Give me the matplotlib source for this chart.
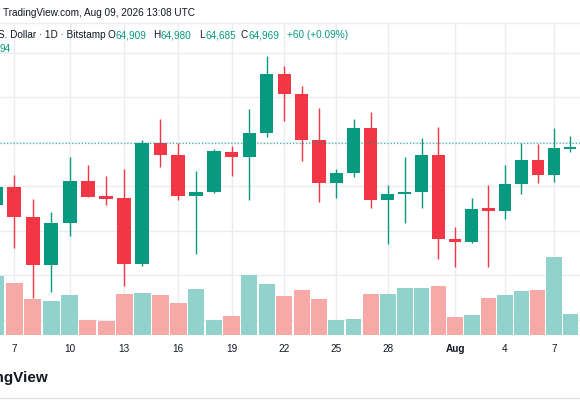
import numpy as np
import matplotlib
matplotlib.use("Agg")
import matplotlib.pyplot as plt
from matplotlib.transforms import blended_transform_factory

# ---------------- data ----------------
dates = ["Jul 6", "Jul 7", "Jul 8", "Jul 9", "Jul 10", "Jul 11", "Jul 12", "Jul 13",
         "Jul 14", "Jul 15", "Jul 16", "Jul 17", "Jul 18", "Jul 19", "Jul 20", "Jul 21",
         "Jul 22", "Jul 23", "Jul 24", "Jul 25", "Jul 26", "Jul 27", "Jul 28", "Jul 29",
         "Jul 30", "Jul 31", "Aug 1", "Aug 2", "Aug 3", "Aug 4", "Aug 5", "Aug 6",
         "Aug 7", "Aug 8"]
opens = [63582, 63994, 63320, 62234, 63171, 64128, 63785, 63747, 62250, 64982,
         64706, 63785, 63881, 64780, 64668, 65207, 66520, 66070, 65036, 64084,
         64302, 65320, 63695, 63836, 63881, 64699, 62812, 62744, 63508, 63448,
         64054, 64594, 64257, 64848]
highs = [64077, 64263, 63717, 63432, 64654, 64475, 64234, 64391, 65043, 65508,
         64969, 64347, 64834, 64915, 65733, 66931, 66706, 66257, 65755, 64385,
         65508, 65666, 64025, 64654, 65095, 65342, 63095, 63733, 64032, 64481,
         64982, 64947, 65320, 65133]
lows = [63470, 62609, 61493, 61621, 62886, 63762, 63582, 61762, 62218, 64443,
        63695, 62481, 63859, 64234, 63695, 65104, 65477, 64578, 63657, 63747,
        64218, 63522, 62699, 63185, 63508, 62362, 62196, 62729, 62196, 63261,
        63823, 64084, 64106, 64780]
closes = [63994, 63306, 62234, 63171, 64128, 63769, 63724, 62250, 64969, 64706,
          63785, 63881, 64796, 64668, 65207, 66520, 66070, 65036, 64070, 64295,
          65320, 63695, 63836, 63881, 64699, 62812, 62744, 63499, 63448, 64054,
          64594, 64257, 64857, 64893]
volumes = [1475, 1290, 890, 860, 990, 375, 360, 1025, 1050, 1000,
           790, 1160, 385, 475, 1490, 1285, 975, 1125, 900, 365,
           390, 1025, 1035, 1185, 1175, 1225, 440, 490, 915, 1010,
           1100, 1115, 1940, 525]
tick_idx = [1, 4, 7, 10, 13, 16, 19, 22, 26, 29, 32]
tick_labels = ["7", "10", "13", "16", "19", "22", "25", "28", "Aug", "4", "7"]
grid_prices = [61000, 62000, 63000, 64000, 65000, 66000, 67000]
last_price = 64969
header_title = "TradingView.com, Aug 09, 2026 13:08 UTC"
symbol_text = "S. Dollar \u00b7 1D \u00b7 Bitstamp"
ohlc_keys = ["O", "H", "L", "C"]
ohlc_vals = ["64,909", "64,980", "64,685", "64,969"]
change_text = "+60 (+0.09%)"
vol_text = "94"

# ---------------- style ----------------
UP = "#089981"
DOWN = "#f23645"
UP_VOL = "#92d2cc"
DOWN_VOL = "#f7a9a7"
TEXT = "#131722"
GRID = "#eaecf0"
HDR = 7.2

plt.rcParams['font.family'] = ['Liberation Sans', 'DejaVu Sans']

W, H = 580, 400
fig = plt.figure(figsize=(W / 100, H / 100), dpi=100)
fig.patch.set_facecolor("white")

top_px, bot_px = 23, 335
ax_v = fig.add_axes([0, 1 - bot_px / H, 1, (bot_px - top_px) / H])
ax_p = ax_v.twinx()
ax_v.set_zorder(1)
ax_p.set_zorder(2)
ax_p.patch.set_visible(False)

# the screenshot's bar spacing narrows slightly from left to right
B, C = 18.625, -0.03676

def fwd(i):
    i = np.asarray(i, dtype=float)
    return B * i + C * i * i

def inv(u):
    u = np.asarray(u, dtype=float)
    disc = np.clip(B * B + 4 * C * u, 0, None)
    return (-B + np.sqrt(disc)) / (2 * C)

for a in (ax_v, ax_p):
    a.set_xscale('function', functions=(fwd, inv))
ax_v.set_xlim(float(inv(4.29)), float(inv(584.29)))

x = np.arange(len(dates))
o = np.array(opens); c = np.array(closes)
hi = np.array(highs); lo = np.array(lows)
up = c >= o

# volume
ax_v.bar(x, volumes, width=0.93, color=[UP_VOL if u else DOWN_VOL for u in up],
         linewidth=0, zorder=2)
ax_v.set_ylim(0, 7800)

# price grid (drawn below volume bars)
tr = blended_transform_factory(ax_v.transAxes, ax_p.transData)
for gp in grid_prices:
    ax_v.plot([0, 1], [gp, gp], transform=tr, color=GRID, lw=1.0, zorder=0)
ax_v.set_xticks(tick_idx)
ax_v.grid(axis='x', color=GRID, lw=1.0, zorder=0)
ax_v.set_axisbelow(True)

# candles
cols = [UP if u else DOWN for u in up]
ax_p.vlines(x, lo, hi, colors=cols, lw=1.0, zorder=3)
body_h = np.where(np.abs(c - o) < 45, np.sign(c - o + 0.1) * 45, c - o)
ax_p.bar(x, body_h, bottom=o, width=0.76, color=cols, linewidth=0, zorder=4)
ax_p.set_ylim(60661, 67672)

# last price line
ax_p.axhline(last_price, color=UP, lw=0.9, ls=(0, (1, 1.6)), alpha=0.75, zorder=5)

for a in (ax_v, ax_p):
    for s in a.spines.values():
        s.set_visible(False)
    a.set_yticks([])
ax_p.tick_params(axis='y', length=0, labelright=False, labelleft=False)
ax_v.tick_params(axis='y', length=0, labelleft=False)

ax_v.set_xticks(tick_idx)
ax_v.set_xticklabels(tick_labels)
ax_v.tick_params(axis='x', length=0, pad=6.5, labelsize=7.2, labelcolor=TEXT)
for lab in ax_v.get_xticklabels():
    if lab.get_text() == "Aug":
        lab.set_fontweight("bold")
ax_p.tick_params(axis='x', length=0, labelbottom=False)

# chart pane borders
fig.add_artist(plt.Line2D([0, 1], [1 - top_px / H] * 2, color=GRID, lw=1.0))
fig.add_artist(plt.Line2D([0, 1], [1 - 398 / H] * 2, color="#e3e5ea", lw=1.0))

def ftext(px, py, s, **kw):
    return fig.text(px / W, 1 - py / H, s, va='center', ha=kw.pop('ha', 'left'), **kw)

ftext(3, 13, header_title, fontsize=HDR, color=TEXT)
ftext(-1.5, 35, symbol_text, fontsize=HDR, color=TEXT)

renderer = fig.canvas.get_renderer()
key_x = [107.3, 152.7, 199.0, 240.7]
for k, v, kx in zip(ohlc_keys, ohlc_vals, key_x):
    t = ftext(kx, 35, k, fontsize=HDR, color=TEXT)
    kw = t.get_window_extent(renderer).width
    ftext(kx + kw + 0.5, 35, v, fontsize=HDR, color=UP)
ftext(287.3, 35, change_text, fontsize=HDR, color=UP)
ftext(-0.5, 49, vol_text, fontsize=HDR, color=UP)

ftext(48.5, 378, "TradingView", fontsize=11, fontweight='bold', color=TEXT, ha='right')

fig.savefig("out.png", dpi=100, facecolor="white")
